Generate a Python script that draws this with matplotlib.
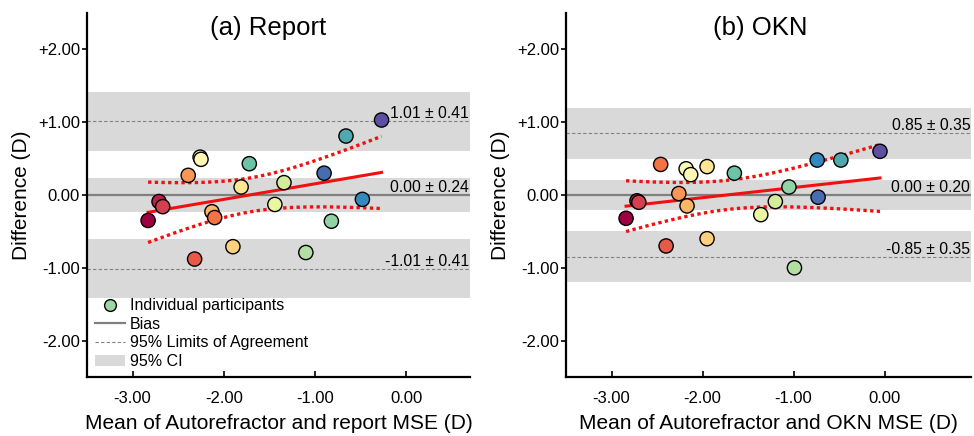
import numpy as np
import matplotlib
matplotlib.use("Agg")
import matplotlib.pyplot as plt
from matplotlib.lines import Line2D
from matplotlib.patches import Patch
import matplotlib.transforms as mtransforms

plt.rcParams['font.family'] = ['Liberation Sans', 'DejaVu Sans']

# ---------------- data ----------------
report_mean = [-2.83, -2.71, -2.67, -2.39, -2.32, -2.26, -2.25, -2.13, -2.10, -1.90,
               -1.81, -1.72, -1.44, -1.34, -1.10, -0.90, -0.82, -0.66, -0.48, -0.27]
report_diff = [-0.35, -0.09, -0.16, 0.27, -0.88, 0.52, 0.49, -0.23, -0.31, -0.71,
               0.11, 0.43, -0.13, 0.17, -0.79, 0.30, -0.36, 0.81, -0.06, 1.03]
report_participant = [0, 1, 2, 5, 3, 10, 9, 6, 4, 7, 8, 15, 11, 12, 13, 18, 14, 16, 17, 19]
report_bias, report_bias_ci = 0.00, 0.24
report_loa, report_loa_ci = 1.01, 0.41

okn_mean = [-2.84, -2.72, -2.70, -2.46, -2.40, -2.26, -2.18, -2.13, -2.17, -1.95,
            -1.95, -1.65, -1.36, -1.20, -1.05, -0.99, -0.74, -0.73, -0.48, -0.05]
okn_diff = [-0.32, -0.08, -0.10, 0.42, -0.70, 0.02, 0.36, 0.28, -0.15, 0.39,
            -0.60, 0.30, -0.27, -0.09, 0.11, -1.00, 0.48, -0.03, 0.48, 0.60]
okn_participant = [0, 1, 2, 4, 3, 5, 10, 9, 6, 8, 7, 15, 11, 12, 14, 13, 17, 18, 16, 19]
okn_bias, okn_bias_ci = 0.00, 0.20
okn_loa, okn_loa_ci = 0.85, 0.35

titles = ["(a) Report", "(b) OKN"]
xlabels = ["Mean of Autorefractor and report MSE (D)", "Mean of Autorefractor and OKN MSE (D)"]
ylabel = "Difference (D)"
xticks = [-3, -2, -1, 0]
xtick_labels = ["-3.00", "-2.00", "-1.00", "0.00"]
yticks = [-2, -1, 0, 1, 2]
ytick_labels = ["-2.00", "-1.00", "0.00", "+1.00", "+2.00"]
legend_labels = ["Individual participants", "Bias", "95% Limits of Agreement", "95% CI"]
T_975_18 = 2.101  # t critical value, 18 dof

# ---------------- style ----------------
BAND = '#d9d9d9'
GREY = '#808080'
RED = '#f01010'
cmap = plt.get_cmap('Spectral')
n_part = 20

W, H = 974, 436
fig = plt.figure(figsize=(W / 100, H / 100), dpi=100)
ax1 = fig.add_axes([87 / W, 1 - 377 / H, 383 / W, 364 / H])
ax2 = fig.add_axes([566 / W, 1 - 377 / H, 405 / W, 364 / H])

panels = [
    (ax1, report_mean, report_diff, report_participant, report_bias, report_bias_ci,
     report_loa, report_loa_ci, (-3.5, 0.7), 0.474),
    (ax2, okn_mean, okn_diff, okn_participant, okn_bias, okn_bias_ci,
     okn_loa, okn_loa_ci, (-3.5, 0.95), 0.479),
]

for i, (ax, xm, yd, part, bias, bias_ci, loa, loa_ci, xlim, tx) in enumerate(panels):
    x = np.array(xm)
    y = np.array(yd)
    ax.set_xlim(*xlim)
    ax.set_ylim(-2.5, 2.5)

    # CI bands
    for c, h in [(bias + loa, loa_ci), (bias, bias_ci), (bias - loa, loa_ci)]:
        ax.axhspan(c - h, c + h, color=BAND, lw=0, zorder=0)
    # limits of agreement & bias
    ax.axhline(bias + loa, color=GREY, lw=0.8, ls=(0, (3, 2)), zorder=1)
    ax.axhline(bias - loa, color=GREY, lw=0.8, ls=(0, (3, 2)), zorder=1)
    ax.axhline(bias, color=GREY, lw=1.6, zorder=1)

    trans = mtransforms.blended_transform_factory(ax.transAxes, ax.transData)
    for val, h in [(bias + loa, loa_ci), (bias, bias_ci), (bias - loa, loa_ci)]:
        ax.text(0.998, val, f"{val:.2f} \u00b1 {h:.2f}", transform=trans,
                ha='right', va='bottom', fontsize=11.3, zorder=5)

    # regression + 95% CI of the fit
    b, a = np.polyfit(x, y, 1)
    xs = np.linspace(x.min(), x.max(), 100)
    fit = a + b * xs
    n = len(x)
    s = np.sqrt(np.sum((y - (a + b * x)) ** 2) / (n - 2))
    sxx = np.sum((x - x.mean()) ** 2)
    se = s * np.sqrt(1 / n + (xs - x.mean()) ** 2 / sxx)
    ax.plot(xs, fit, color=RED, lw=2.2, zorder=3)
    ax.plot(xs, fit + T_975_18 * se, color=RED, lw=2.4, ls=(0, (1, 1)), zorder=3)
    ax.plot(xs, fit - T_975_18 * se, color=RED, lw=2.4, ls=(0, (1, 1)), zorder=3)

    cols = [cmap(p / (n_part - 1)) for p in part]
    ax.scatter(x, y, s=105, c=cols, edgecolors='black', linewidths=1.0, zorder=4)

    # axes styling
    for sp in ['top', 'right']:
        ax.spines[sp].set_visible(False)
    for sp in ['left', 'bottom']:
        ax.spines[sp].set_linewidth(1.6)
    ax.set_xticks(xticks)
    ax.set_xticklabels(xtick_labels)
    ax.set_yticks(yticks)
    ax.set_yticklabels(ytick_labels)
    ax.tick_params(axis='x', direction='in', length=4, width=1.2, pad=10, labelsize=12)
    ax.tick_params(axis='y', direction='out', length=3.5, width=1.2, pad=1.5, labelsize=12)
    ax.set_xlabel(xlabels[i], fontsize=15, labelpad=6)
    ax.set_ylabel(ylabel, fontsize=15, labelpad=5)
    ax.text(tx, 0.96, titles[i], transform=ax.transAxes, ha='center', va='center',
            fontsize=18.5)

handles = [
    Line2D([], [], marker='o', ls='none', markersize=8.5, markerfacecolor=cmap(0.72),
           markeredgecolor='black', markeredgewidth=1.0),
    Line2D([], [], color=GREY, lw=1.6),
    Line2D([], [], color=GREY, lw=0.8, ls=(0, (3, 2))),
    Patch(facecolor=BAND, edgecolor='none'),
]
ax1.legend(handles, legend_labels, loc='lower left', bbox_to_anchor=(0.0, 0.0),
           frameon=False, fontsize=11.5, handlelength=1.9, handletextpad=0.3,
           labelspacing=0.22, borderaxespad=0.2, borderpad=0.3)

fig.savefig("out.png", dpi=100)
